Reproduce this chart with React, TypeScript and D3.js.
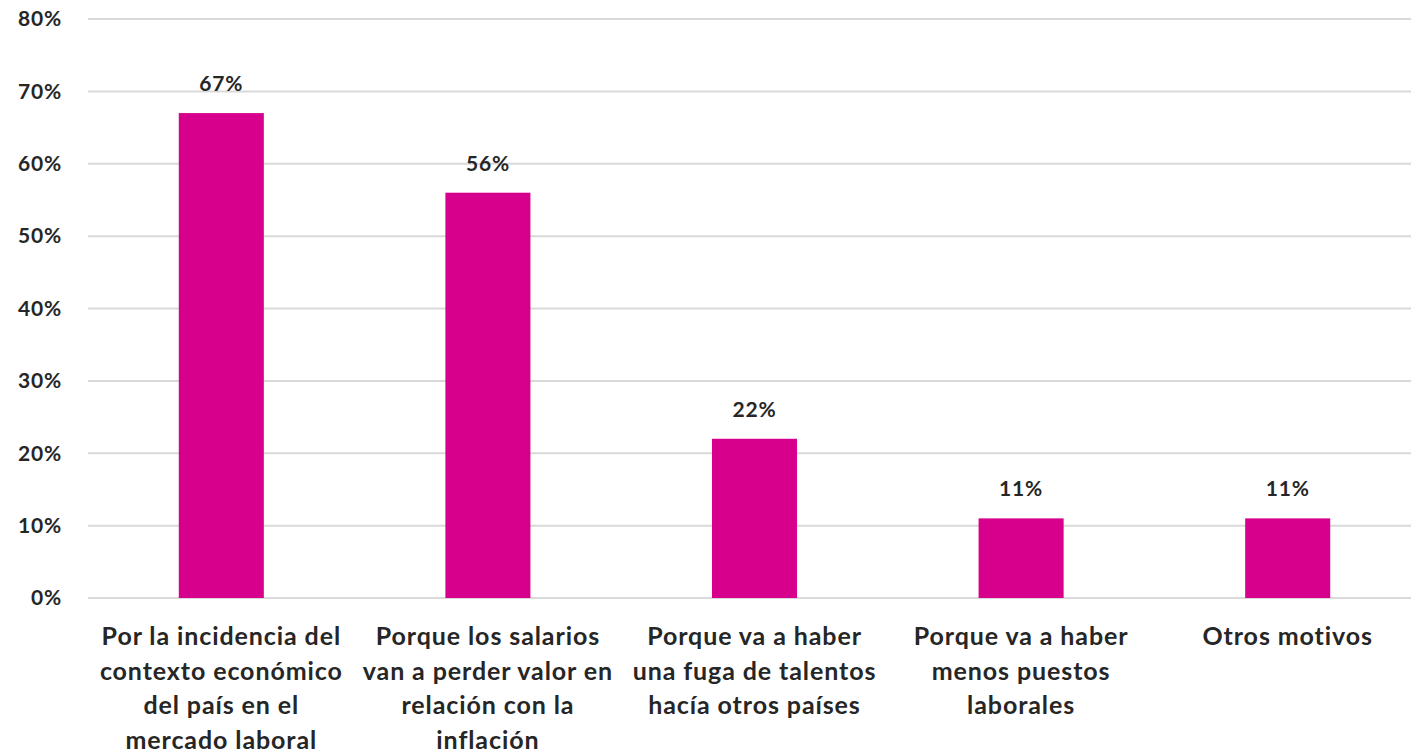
import React from "react";
import * as d3 from "d3";

const categories: string[][] = [
  ["Por la incidencia del", "contexto económico", "del país en el", "mercado laboral"],
  ["Porque los salarios", "van a perder valor en", "relación con la", "inflación"],
  ["Porque va a haber", "una fuga de talentos", "hacía otros países"],
  ["Porque va a haber", "menos puestos", "laborales"],
  ["Otros motivos"],
];
const values: number[] = [67, 56, 22, 11, 11];
const yTicks: number[] = [0, 10, 20, 30, 40, 50, 60, 70, 80];

const W = 1411;
const H = 754;
const FONT = "Lato, 'Open Sans', sans-serif";

export default function App() {
  const ids = categories.map((_, i) => String(i));
  const x = d3
    .scaleBand<string>()
    .domain(ids)
    .range([88, 1421])
    .paddingInner(0.681)
    .paddingOuter(0.3405);
  const y = d3.scaleLinear().domain([0, 80]).range([598, 19]);

  return (
    <svg
      width={W}
      height={H}
      style={{ position: "absolute", left: 0, top: 0, background: "#fff" }}
      fontFamily={FONT}
    >
      {yTicks.map((t) => (
        <g key={t}>
          <line x1={88} x2={W} y1={y(t)} y2={y(t)} stroke="#d9d9d9" strokeWidth={2} />
          <text
            x={62}
            y={y(t)}
            dy="0.35em"
            textAnchor="end"
            fontSize={21}
            fontWeight={700}
            letterSpacing={0.8}
            fill="#262626"
          >
            {t}%
          </text>
        </g>
      ))}
      {values.map((v, i) => {
        const bx = x(String(i))!;
        const bw = x.bandwidth();
        const cx = bx + bw / 2;
        return (
          <g key={i}>
            <rect x={bx} y={y(v)} width={bw} height={y(0) - y(v)} fill="#d6008c" />
            <text
              x={cx}
              y={y(v) - 22}
              textAnchor="middle"
              fontSize={21}
              fontWeight={700}
              letterSpacing={0.8}
              fill="#262626"
            >
              {v}%
            </text>
            {categories[i].map((line, j) => (
              <text
                key={j}
                x={cx}
                y={645 + j * 34.5}
                textAnchor="middle"
                fontSize={25}
                fontWeight={700}
                letterSpacing={0.9}
                fill="#262626"
              >
                {line}
              </text>
            ))}
          </g>
        );
      })}
    </svg>
  );
}
